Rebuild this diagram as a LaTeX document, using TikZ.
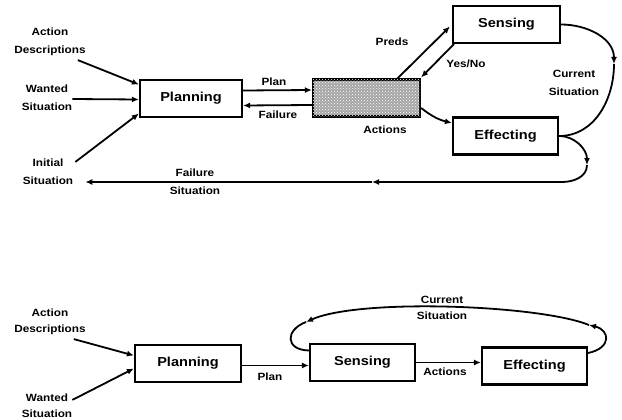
\documentclass[tikz,border=0pt]{standalone}
\usepackage{fontspec}
\setmainfont{Liberation Sans}[FakeStretch=1.12]
\usetikzlibrary{arrows.meta,patterns,calc}
\begin{document}
\begin{tikzpicture}[x=1pt,y=1pt,
 box/.style={draw,line width=2.2pt,minimum height=37pt,inner sep=0pt,font=\fontsize{13}{15}\selectfont\bfseries},
 lbl/.style={font=\fontsize{10.5}{18}\selectfont\bfseries,align=center,inner sep=0pt},
 lbltight/.style={lbl,font=\fontsize{10.5}{16}\selectfont\bfseries},
 arr/.style={line width=1.8pt,-{Latex[length=7pt,width=6pt]}},
 ln/.style={line width=1.8pt}]
\useasboundingbox (0,0) rectangle (622,-420);

% ---------- top diagram ----------
\node[box,minimum width=102pt] (plan) at (191,-98.5) {Planning};
\node[box,minimum width=107pt,fill=gray!70,postaction={pattern=crosshatch dots,pattern color=white}] (exec) at (366.5,-98) {};
\node[box,minimum width=107pt] (sens) at (506.5,-24.5) {Sensing};
\node[box,minimum width=105pt] (eff) at (505.5,-136) {Effecting};

\node[lbl] (ad) at (50,-42) {Action\\Descriptions};
\node[lbl] (ws) at (47,-98) {Wanted\\Situation};
\node[lbl] (is) at (48,-172) {Initial\\Situation};

\draw[arr] ($(ad.south east)+(-8,-4)$) -- ($(plan.west)+(0,14)$);
\draw[arr] ($(ws.east)+(0,-1)$) -- ($(plan.west)+(0,-1)$);
\draw[arr] ($(is.north east)+(2,-3)$) -- ($(plan.west)+(0,-15)$);

\draw[arr] ($(plan.east)+(0,8)$) -- ($(exec.west)+(0,8)$);
\draw[arr] ($(exec.west)+(0,-7)$) -- ($(plan.east)+(0,-7)$);
\node[lbl] at (274,-82) {Plan};
\node[lbl] at (278,-115) {Failure};

\draw[arr] ($(exec.north)+(31,0)$) -- ($(sens.west)+(-2,-2)$);
\draw[arr] ($(sens.south west)+(2,0)$) -- ($(exec.north east)+(0,1)$);
\node[lbl] at (392,-42) {Preds};
\node[lbl] at (466,-64) {Yes/No};

\draw[arr] ($(exec.east)+(0,-10)$) to[bend right=12] ($(eff.west)+(0,13)$);
\node[lbl] at (385,-130) {Actions};

\coordinate (cs1) at (614,-64);
\draw[arr] (sens.east) to[out=0,in=90] (cs1);
\draw[ln] (cs1) to[out=-90,in=0] (eff.east);
\node[lbl] at (574,-83) {Current\\Situation};

\coordinate (fs1) at (587,-165);
\coordinate (fs1b) at (562,-182);
\coordinate (fs2) at (372,-182);
\coordinate (fsEnd) at ($(is.east)+(12,-10)$);
\draw[arr] (eff.east) to[out=0,in=90] (fs1);
\draw[arr] (fs1) to[out=-90,in=0] (fs1b) -- (fs2);
\draw[arr] (fs2) -- (fsEnd);
\node[lbl] at (195,-182) {Failure\\Situation};

% ---------- bottom diagram ----------
\node[box,minimum width=106pt] (plan2) at (188,-363.5) {Planning};
\node[box,minimum width=105pt] (sens2) at (362.5,-362.5) {Sensing};
\node[box,minimum width=105pt] (eff2) at (534.5,-366) {Effecting};

\node[lbltight] (ad2) at (50,-322) {Action\\Descriptions};
\node[lbltight] (ws2) at (47,-406) {Wanted\\Situation};

\draw[arr] ($(ad2.south east)+(-12,-4)$) -- ($(plan2.west)+(0,8)$);
\draw[arr] ($(ws2.north east)+(0,-6)$) -- ($(plan2.west)+(0,-5)$);

\draw[arr] ($(plan2.east)+(0,-2)$) -- ($(sens2.west)+(0,-3)$);
\node[lbl] at (270,-377) {Plan};
\draw[arr] (sens2.east) -- (sens2.east -| eff2.west);
\node[lbl] at (445,-372) {Actions};

\coordinate (c1) at (589,-325);
\coordinate (c2) at (306,-322);
\draw[arr] ($(eff2.east)+(0,13)$) .. controls (612,-348) and (610,-330) .. (c1);
\draw[arr] (c1) .. controls (540,-305) and (360,-298) .. (c2);
\draw[ln] (c2) .. controls (285,-330) and (285,-350) .. ($(sens2.west)+(0,12)$);
\node[lbltight] at (442,-308) {Current\\Situation};
\end{tikzpicture}
\end{document}
